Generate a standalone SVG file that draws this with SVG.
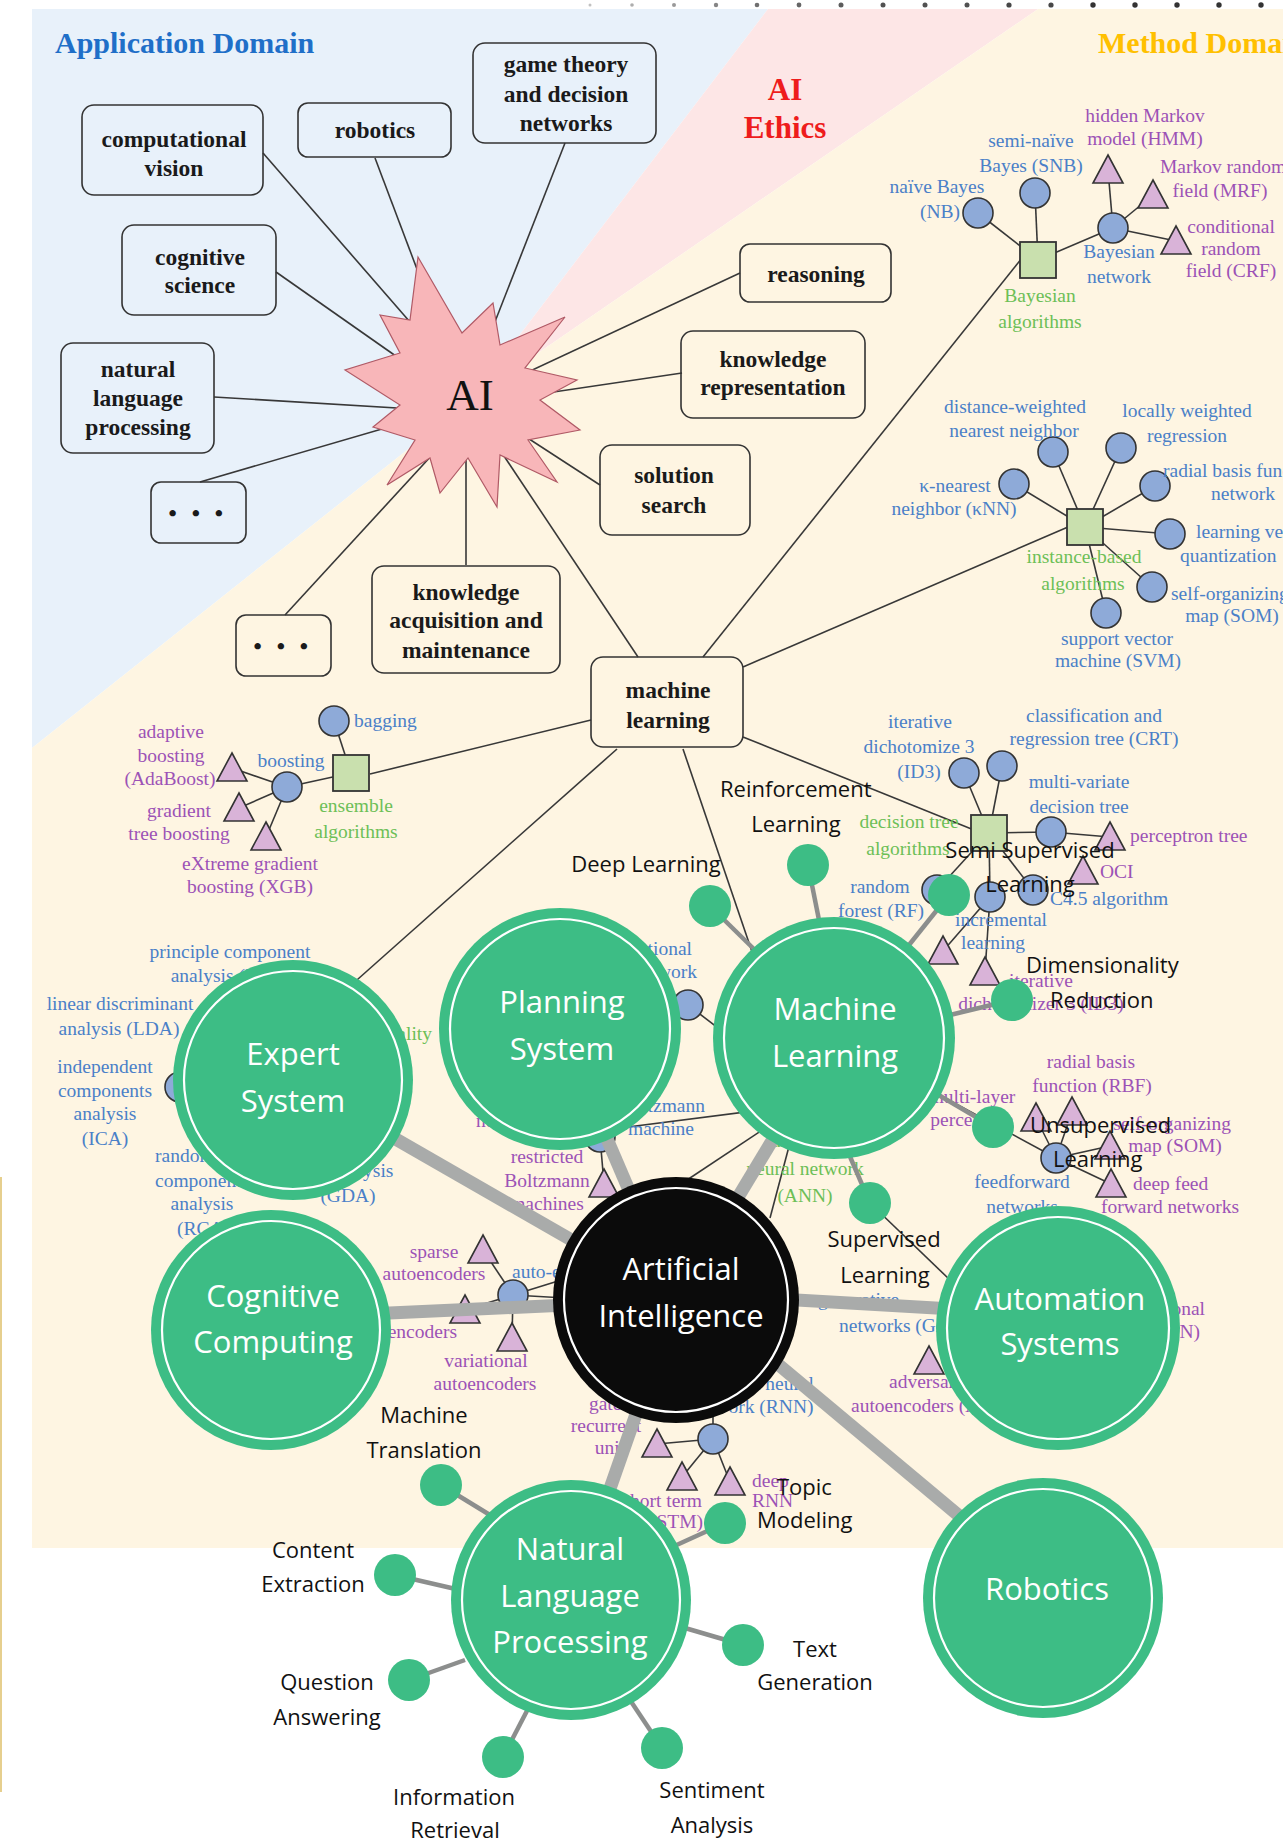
<svg xmlns="http://www.w3.org/2000/svg" width="1283" height="1846" viewBox="0 0 1283 1846">
<defs>
<style>
.box{fill:none;stroke:#333;stroke-width:1.6}
.bt{font-family:"Liberation Serif","Times New Roman",serif;font-weight:bold;font-size:23.5px;fill:#1a1a1a;text-anchor:middle}
.ln{stroke:#383838;stroke-width:1.6;fill:none}
.b,.p,.g{font-family:"Liberation Serif","Times New Roman",serif;font-size:19.5px}
.b{fill:#4a80c8}
.p{fill:#9c52b6}
.g{fill:#6dbf57}
.m{text-anchor:middle}
.e{text-anchor:end}
.bc{fill:#8eaad8;stroke:#333;stroke-width:1.6}
.tr{fill:#d9b3d8;stroke:#333;stroke-width:1.6}
.sq{fill:#c9e0ae;stroke:#333;stroke-width:1.8}
.thick{stroke:#a9abaa;stroke-width:13}
.gl{stroke:#8c8e8d;stroke-width:4.5}
.big{fill:#3dbd85}
.ring{fill:none;stroke:#fff;stroke-width:2.2}
.sm{fill:#3dbd85}
.gt{font-family:"Open Sans","Noto Sans",sans-serif;font-size:31px;fill:#fff;text-anchor:middle}
.lab{font-family:"Open Sans","Noto Sans",sans-serif;font-size:22px;fill:#111}
.dot{fill:#333}
</style>
<path id="tri" d="M0,-15 L15,13 L-15,13 Z"/>
<rect id="sqr" x="-18" y="-18" width="36" height="36"/>
</defs>

<!-- domain backgrounds -->
<g id="background">
<rect width="1283" height="1846" fill="#fff"/>
<polygon fill="#e8f1fa" points="32,9 768,9 470,400 32,748"/>
<polygon fill="#fde6e6" points="768,9 1038,9 470,400"/>
<polygon fill="#fef5e2" points="1038,9 1283,9 1283,1548 32,1548 32,748 470,400"/>
<line x1="1" y1="1177" x2="1" y2="1792" stroke="#e6cf8e" stroke-width="2"/>
<g class="dot">
<circle cx="590" cy="5" r="1.5" opacity="0.3"/><circle cx="632" cy="5" r="1.8" opacity="0.4"/><circle cx="674" cy="5" r="2" opacity="0.5"/><circle cx="716" cy="5" r="2.2" opacity="0.6"/><circle cx="757" cy="5" r="2.3" opacity="0.7"/><circle cx="799" cy="5" r="2.4" opacity="0.75"/><circle cx="841" cy="5" r="2.5" opacity="0.8"/><circle cx="883" cy="5" r="2.5" opacity="0.85"/><circle cx="925" cy="5" r="2.5" opacity="0.85"/><circle cx="967" cy="5" r="2.5" opacity="0.85"/><circle cx="1009" cy="5" r="2.6" opacity="0.9"/><circle cx="1051" cy="5" r="2.6" opacity="0.9"/><circle cx="1093" cy="5" r="2.7"/><circle cx="1135" cy="5" r="2.7"/><circle cx="1177" cy="5" r="2.7"/><circle cx="1219" cy="5" r="2.7"/><circle cx="1261" cy="5" r="2.7"/>
</g>
</g>

<!-- domain titles -->
<g id="titles" font-family="Liberation Serif, Times New Roman, serif" font-weight="bold">
<text x="55" y="53" font-size="30" fill="#1f6fc8">Application Domain</text>
<text x="1098" y="53" font-size="30" fill="#ffc000">Method Domain</text>
<text x="785" y="100" font-size="31" fill="#ee1c1c" text-anchor="middle">AI</text>
<text x="785" y="138" font-size="31" fill="#ee1c1c" text-anchor="middle">Ethics</text>
</g>

<!-- thin connectors of the concept map -->
<g id="connectors" class="ln">
<line x1="263" y1="153" x2="430" y2="345"/>
<line x1="375" y1="158" x2="440" y2="330"/>
<line x1="565" y1="143" x2="480" y2="360"/>
<line x1="276" y1="272" x2="430" y2="380"/>
<line x1="214" y1="397" x2="430" y2="410"/>
<line x1="200" y1="482" x2="430" y2="415"/>
<line x1="740" y1="273" x2="500" y2="385"/>
<line x1="682" y1="373" x2="500" y2="400"/>
<line x1="600" y1="485" x2="500" y2="420"/>
<line x1="466" y1="565" x2="466" y2="430"/>
<line x1="638" y1="657" x2="480" y2="420"/>
<line x1="285" y1="615" x2="455" y2="430"/>
<line x1="703" y1="657" x2="1022" y2="258"/>
<line x1="743" y1="667" x2="1068" y2="527"/>
<line x1="743" y1="737" x2="974" y2="830"/>
<line x1="591" y1="720" x2="370" y2="774"/>
<line x1="617" y1="749" x2="340" y2="995"/>
<line x1="683" y1="749" x2="765" y2="990"/>
<!-- Bayesian -->
<line x1="978" y1="213" x2="1038" y2="260"/>
<line x1="1035" y1="193" x2="1038" y2="260"/>
<line x1="1113" y1="228" x2="1038" y2="260"/>
<line x1="1113" y1="228" x2="1108" y2="170"/>
<line x1="1113" y1="228" x2="1153" y2="195"/>
<line x1="1113" y1="228" x2="1176" y2="241"/>
<!-- instance-based -->
<line x1="1085" y1="527" x2="1014" y2="484"/>
<line x1="1085" y1="527" x2="1053" y2="452"/>
<line x1="1085" y1="527" x2="1121" y2="448"/>
<line x1="1085" y1="527" x2="1155" y2="486"/>
<line x1="1085" y1="527" x2="1170" y2="534"/>
<line x1="1085" y1="527" x2="1152" y2="587"/>
<line x1="1085" y1="527" x2="1106" y2="613"/>
<!-- decision tree -->
<line x1="989" y1="833" x2="964" y2="773"/>
<line x1="989" y1="833" x2="1002" y2="766"/>
<line x1="989" y1="833" x2="1051" y2="832"/>
<line x1="1051" y1="832" x2="1110" y2="837"/>
<line x1="989" y1="833" x2="937" y2="890"/>
<line x1="989" y1="833" x2="990" y2="897"/>
<line x1="989" y1="833" x2="1033" y2="890"/>
<line x1="990" y1="897" x2="943" y2="951"/>
<line x1="990" y1="897" x2="985" y2="972"/>
<!-- ensemble -->
<line x1="351" y1="773" x2="334" y2="721"/>
<line x1="351" y1="773" x2="287" y2="787"/>
<line x1="287" y1="787" x2="232" y2="768"/>
<line x1="287" y1="787" x2="239" y2="808"/>
<line x1="287" y1="787" x2="266" y2="837"/>
<!-- neural networks -->
<line x1="688" y1="1005" x2="760" y2="1060"/>
<line x1="620" y1="1128" x2="800" y2="1105"/>
<line x1="687" y1="1180" x2="800" y2="1105"/>
<line x1="770" y1="1218" x2="800" y2="1105"/>
<line x1="600" y1="1137" x2="604" y2="1184"/>
<line x1="834" y1="1038" x2="1056" y2="1158"/>
<line x1="1056" y1="1158" x2="1036" y2="1118"/>
<line x1="1056" y1="1158" x2="1072" y2="1112"/>
<line x1="1056" y1="1158" x2="1110" y2="1146"/>
<line x1="1056" y1="1158" x2="1111" y2="1184"/>
<line x1="870" y1="1203" x2="950" y2="1280"/>
<!-- autoencoders -->
<line x1="513" y1="1295" x2="483" y2="1250"/>
<line x1="513" y1="1295" x2="512" y2="1338"/>
<line x1="513" y1="1295" x2="600" y2="1268"/>
<line x1="513" y1="1295" x2="600" y2="1300"/>
<line x1="513" y1="1295" x2="465" y2="1310"/>
<!-- recurrent -->
<line x1="713" y1="1439" x2="657" y2="1444"/>
<line x1="713" y1="1439" x2="682" y2="1477"/>
<line x1="713" y1="1439" x2="730" y2="1482"/>
<line x1="713" y1="1439" x2="713" y2="1400"/>
</g>

<!-- application and method concept boxes -->
<g id="box-computational-vision"><rect class="box" x="82" y="105" width="181" height="90" rx="12"/><text class="bt" x="174" y="147">computational</text><text class="bt" x="174" y="176">vision</text></g>
<g id="box-robotics"><rect class="box" x="298" y="103" width="153" height="54" rx="10"/><text class="bt" x="375" y="138">robotics</text></g>
<g id="box-game-theory"><rect class="box" x="473" y="43" width="183" height="100" rx="12"/><text class="bt" x="566" y="72">game theory</text><text class="bt" x="566" y="102">and decision</text><text class="bt" x="566" y="131">networks</text></g>
<g id="box-cognitive-science"><rect class="box" x="122" y="225" width="154" height="90" rx="12"/><text class="bt" x="200" y="265">cognitive</text><text class="bt" x="200" y="293">science</text></g>
<g id="box-nlp"><rect class="box" x="61" y="343" width="153" height="110" rx="12"/><text class="bt" x="138" y="377">natural</text><text class="bt" x="138" y="406">language</text><text class="bt" x="138" y="435">processing</text></g>
<g id="box-more-1"><rect class="box" x="151" y="482" width="95" height="61" rx="10"/><text class="bt" x="198" y="521" font-size="16" letter-spacing="4.5">• • •</text></g>
<g id="box-reasoning"><rect class="box" x="740" y="244" width="151" height="58" rx="10"/><text class="bt" x="816" y="282">reasoning</text></g>
<g id="box-knowledge-representation"><rect class="box" x="681" y="331" width="184" height="87" rx="12"/><text class="bt" x="773" y="367">knowledge</text><text class="bt" x="773" y="395">representation</text></g>
<g id="box-solution-search"><rect class="box" x="600" y="445" width="150" height="90" rx="12"/><text class="bt" x="674" y="483">solution</text><text class="bt" x="674" y="513">search</text></g>
<g id="box-knowledge-acquisition"><rect class="box" x="372" y="566" width="188" height="107" rx="12"/><text class="bt" x="466" y="600">knowledge</text><text class="bt" x="466" y="628">acquisition and</text><text class="bt" x="466" y="658">maintenance</text></g>
<g id="box-more-2"><rect class="box" x="236" y="615" width="95" height="61" rx="10"/><text class="bt" x="283" y="654" font-size="16" letter-spacing="4.5">• • •</text></g>
<g id="box-machine-learning"><rect class="box" x="591" y="657" width="152" height="90" rx="12"/><text class="bt" x="668" y="698">machine</text><text class="bt" x="668" y="728">learning</text></g>

<!-- AI burst -->
<g id="ai-star">
<polygon fill="#f8b6b9" stroke="#b05a66" stroke-width="1.2" points="418,257 462,333 493,303 500,345 565,317 525,368 577,380 540,400 580,430 528,440 557,482 500,455 497,507 468,458 440,493 430,458 387,485 415,440 373,427 400,405 345,370 400,353 380,315 410,320"/>
<text x="470" y="410" font-family="Liberation Serif, Times New Roman, serif" font-size="45" fill="#111" text-anchor="middle">AI</text>
</g>

<!-- method clusters: shapes -->
<g id="cluster-shapes">
<use href="#sqr" class="sq" x="1038" y="260"/>
<use href="#sqr" class="sq" x="1085" y="527"/>
<use href="#sqr" class="sq" x="989" y="833"/>
<use href="#sqr" class="sq" x="351" y="773"/>
<circle class="bc" cx="978" cy="213" r="15"/><circle class="bc" cx="1035" cy="193" r="15"/><circle class="bc" cx="1113" cy="228" r="15"/>
<circle class="bc" cx="1014" cy="484" r="15"/><circle class="bc" cx="1053" cy="452" r="15"/><circle class="bc" cx="1121" cy="448" r="15"/><circle class="bc" cx="1155" cy="486" r="15"/><circle class="bc" cx="1170" cy="534" r="15"/><circle class="bc" cx="1152" cy="587" r="15"/><circle class="bc" cx="1106" cy="613" r="15"/>
<circle class="bc" cx="964" cy="773" r="15"/><circle class="bc" cx="1002" cy="766" r="15"/><circle class="bc" cx="1051" cy="832" r="15"/><circle class="bc" cx="937" cy="890" r="15"/><circle class="bc" cx="990" cy="897" r="15"/><circle class="bc" cx="1033" cy="890" r="15"/>
<circle class="bc" cx="334" cy="721" r="15"/><circle class="bc" cx="287" cy="787" r="15"/>
<circle class="bc" cx="180" cy="1087" r="15"/>
<circle class="bc" cx="688" cy="1005" r="15"/><circle class="bc" cx="600" cy="1137" r="15"/>
<circle class="bc" cx="513" cy="1295" r="15"/><circle class="bc" cx="713" cy="1439" r="15"/><circle class="bc" cx="1056" cy="1158" r="15"/>
<use href="#tri" class="tr" x="1108" y="170"/><use href="#tri" class="tr" x="1153" y="195"/><use href="#tri" class="tr" x="1176" y="241"/>
<use href="#tri" class="tr" x="1110" y="837"/><use href="#tri" class="tr" x="1083" y="871"/>
<use href="#tri" class="tr" x="943" y="951"/><use href="#tri" class="tr" x="985" y="972"/>
<use href="#tri" class="tr" x="232" y="768"/><use href="#tri" class="tr" x="239" y="808"/><use href="#tri" class="tr" x="266" y="837"/>
<use href="#tri" class="tr" x="604" y="1184"/><use href="#tri" class="tr" x="483" y="1250"/><use href="#tri" class="tr" x="465" y="1310"/><use href="#tri" class="tr" x="512" y="1338"/>
<use href="#tri" class="tr" x="657" y="1444"/><use href="#tri" class="tr" x="682" y="1477"/><use href="#tri" class="tr" x="730" y="1482"/>
<use href="#tri" class="tr" x="1036" y="1118"/><use href="#tri" class="tr" x="1072" y="1112"/><use href="#tri" class="tr" x="1110" y="1146"/><use href="#tri" class="tr" x="1111" y="1184"/>
<use href="#tri" class="tr" x="929" y="1361"/>
</g>

<!-- method clusters: labels -->
<g id="cluster-labels">
<text class="b m" x="937" y="193">naïve Bayes</text><text class="b e" x="960" y="218">(NB)</text>
<text class="b m" x="1031" y="147">semi-naïve</text><text class="b m" x="1031" y="172">Bayes (SNB)</text>
<text class="b m" x="1119" y="258">Bayesian</text><text class="b m" x="1119" y="283">network</text>
<text class="p m" x="1145" y="122">hidden Markov</text><text class="p m" x="1145" y="145">model (HMM)</text>
<text class="p" x="1160" y="173">Markov random</text><text class="p m" x="1220" y="197">field (MRF)</text>
<text class="p m" x="1231" y="233">conditional</text><text class="p m" x="1231" y="255">random</text><text class="p m" x="1231" y="277">field (CRF)</text>
<text class="g m" x="1040" y="302">Bayesian</text><text class="g m" x="1040" y="328">algorithms</text>

<text class="b m" x="1015" y="413">distance-weighted</text><text class="b m" x="1014" y="437">nearest neighbor</text>
<text class="b m" x="1187" y="417">locally weighted</text><text class="b m" x="1187" y="442">regression</text>
<text class="b m" x="955" y="492">κ-nearest</text><text class="b m" x="954" y="515">neighbor (κNN)</text>
<text class="b" x="1163" y="477">radial basis function</text><text class="b m" x="1243" y="500">network</text>
<text class="b" x="1196" y="538">learning vector</text><text class="b" x="1180" y="562">quantization</text>
<text class="b" x="1171" y="600">self-organizing</text><text class="b m" x="1232" y="622">map (SOM)</text>
<text class="b m" x="1117" y="645">support vector</text><text class="b m" x="1118" y="667">machine (SVM)</text>
<text class="g m" x="1084" y="563">instance-based</text><text class="g m" x="1083" y="590">algorithms</text>

<text class="b m" x="920" y="728">iterative</text><text class="b m" x="919" y="753">dichotomize 3</text><text class="b m" x="919" y="778">(ID3)</text>
<text class="b m" x="1094" y="722">classification and</text><text class="b m" x="1094" y="745">regression tree (CRT)</text>
<text class="b m" x="1079" y="788">multi-variate</text><text class="b m" x="1079" y="813">decision tree</text>
<text class="p" x="1130" y="842">perceptron tree</text>
<text class="p" x="1100" y="878">OCI</text>
<text class="b" x="1050" y="905">C4.5 algorithm</text>
<text class="b m" x="880" y="893">random</text><text class="b m" x="881" y="917">forest (RF)</text>
<text class="b m" x="1001" y="926">incremental</text><text class="b m" x="993" y="949">learning</text>
<text class="g m" x="909" y="828">decision tree</text><text class="g m" x="908" y="855">algorithms</text>
<text class="p m" x="1041" y="987">iterative</text><text class="p m" x="1041" y="1010">dichotomizer 3 (ID3)</text>

<text class="b" x="354" y="727">bagging</text>
<text class="b m" x="291" y="767">boosting</text>
<text class="p m" x="171" y="738">adaptive</text><text class="p m" x="171" y="762">boosting</text><text class="p m" x="170" y="785">(AdaBoost)</text>
<text class="p m" x="179" y="817">gradient</text><text class="p m" x="179" y="840">tree boosting</text>
<text class="p m" x="250" y="870">eXtreme gradient</text><text class="p m" x="250" y="893">boosting (XGB)</text>
<text class="g m" x="356" y="812">ensemble</text><text class="g m" x="356" y="838">algorithms</text>

<text class="b m" x="230" y="958">principle component</text><text class="b m" x="230" y="982">analysis (PCA)</text>
<text class="b m" x="120" y="1010">linear discriminant</text><text class="b m" x="119" y="1035">analysis (LDA)</text>
<text class="b m" x="105" y="1073">independent</text><text class="b m" x="105" y="1097">components</text><text class="b m" x="105" y="1120">analysis</text><text class="b m" x="105" y="1145">(ICA)</text>
<text class="b" x="155" y="1162">random</text><text class="b" x="155" y="1187">component</text><text class="b m" x="202" y="1210">analysis</text><text class="b" x="177" y="1235">(RCA)</text>
<text class="b m" x="362" y="1177">analysis</text><text class="b m" x="348" y="1202">(GDA)</text>
<text class="g e" x="432" y="1040">dimensionality</text><text class="g m" x="370" y="1065">reduction</text>

<text class="b e" x="692" y="955">convolutional</text><text class="b e" x="697" y="978">neural network</text>
<text class="b e" x="705" y="1112">Boltzmann</text><text class="b m" x="661" y="1135">machine</text>
<text class="p" x="476" y="1127">networks</text>
<text class="p m" x="547" y="1163">restricted</text><text class="p m" x="547" y="1187">Boltzmann</text><text class="p m" x="547" y="1210">machines</text>
<text class="g m" x="805" y="1147">artificial</text><text class="g m" x="805" y="1175">neural network</text><text class="g m" x="805" y="1202">(ANN)</text>
<text class="p m" x="972" y="1103">multi-layer</text><text class="p m" x="972" y="1126">perceptron</text>
<text class="p m" x="1091" y="1068">radial basis</text><text class="p m" x="1092" y="1092">function (RBF)</text>
<text class="p e" x="1231" y="1130">self-organizing</text><text class="p m" x="1175" y="1152">map (SOM)</text>
<text class="p" x="1133" y="1190">deep feed</text><text class="p m" x="1170" y="1213">forward networks</text>
<text class="b m" x="1022" y="1188">feedforward</text><text class="b m" x="1022" y="1213">networks</text>

<text class="p m" x="434" y="1258">sparse</text><text class="p m" x="434" y="1280">autoencoders</text>
<text class="b" x="512" y="1278">auto-encoders</text>
<text class="p e" x="457" y="1338">autoencoders</text>
<text class="p m" x="486" y="1367">variational</text><text class="p m" x="485" y="1390">autoencoders</text>
<text class="b" x="818" y="1306">generative</text><text class="b" x="839" y="1332">networks (GAN)</text>
<text class="p" x="889" y="1388">adversarial</text><text class="p" x="851" y="1412">autoencoders (AAE)</text>
<text class="p e" x="1205" y="1315">convolutional</text><text class="p e" x="1200" y="1338">network (CNN)</text>

<text class="p m" x="610" y="1410">gated</text><text class="p m" x="606" y="1432">recurrent</text><text class="p m" x="610" y="1454">unit</text>
<text class="b m" x="752" y="1390">recurrent neural</text><text class="b m" x="752" y="1413">network (RNN)</text>
<text class="p e" x="702" y="1507">long short term</text><text class="p e" x="703" y="1528">memory (LSTM)</text>
<text class="p" x="752" y="1487">deep</text><text class="p" x="752" y="1507">RNN</text>
</g>

<!-- heavy links from the central node -->
<g id="hub-links" class="thick">
<line x1="676" y1="1300" x2="293" y2="1080"/>
<line x1="676" y1="1300" x2="280" y2="1318"/>
<line x1="676" y1="1300" x2="560" y2="1029"/>
<line x1="676" y1="1300" x2="834" y2="1038"/>
<line x1="676" y1="1293" x2="1058" y2="1315"/>
<line x1="700" y1="1299" x2="1043" y2="1586"/>
<line x1="676" y1="1300" x2="571" y2="1600"/>
</g>

<!-- links to leaf topics -->
<g id="leaf-links" class="gl">
<line x1="710" y1="906" x2="760" y2="955"/>
<line x1="808" y1="865" x2="820" y2="925"/>
<line x1="949" y1="895" x2="905" y2="950"/>
<line x1="1012" y1="1000" x2="950" y2="1015"/>
<line x1="993" y1="1127" x2="930" y2="1090"/>
<line x1="870" y1="1203" x2="845" y2="1145"/>
<line x1="441" y1="1485" x2="490" y2="1515"/>
<line x1="395" y1="1575" x2="460" y2="1590"/>
<line x1="409" y1="1680" x2="465" y2="1660"/>
<line x1="503" y1="1757" x2="530" y2="1705"/>
<line x1="662" y1="1748" x2="630" y2="1700"/>
<line x1="743" y1="1645" x2="685" y2="1628"/>
<line x1="725" y1="1523" x2="670" y2="1548"/>
</g>

<!-- main topic nodes -->
<g id="node-expert-system"><circle class="big" cx="293" cy="1080" r="120"/><circle class="ring" cx="293" cy="1080" r="109"/><text class="gt" x="293" y="1065">Expert</text><text class="gt" x="293" y="1112">System</text></g>
<g id="node-cognitive-computing"><circle class="big" cx="271" cy="1330" r="120"/><circle class="ring" cx="271" cy="1330" r="109"/><text class="gt" x="273" y="1307">Cognitive</text><text class="gt" x="273" y="1353">Computing</text></g>
<g id="node-planning-system"><circle class="big" cx="560" cy="1029" r="121"/><circle class="ring" cx="560" cy="1029" r="110"/><text class="gt" x="562" y="1013">Planning</text><text class="gt" x="562" y="1060">System</text></g>
<g id="node-machine-learning"><circle class="big" cx="834" cy="1038" r="121"/><circle class="ring" cx="834" cy="1038" r="110"/><text class="gt" x="835" y="1020">Machine</text><text class="gt" x="835" y="1067">Learning</text></g>
<g id="node-automation-systems"><circle class="big" cx="1058" cy="1328" r="122"/><circle class="ring" cx="1058" cy="1328" r="111"/><text class="gt" x="1060" y="1310">Automation</text><text class="gt" x="1060" y="1355">Systems</text></g>
<g id="node-robotics"><circle class="big" cx="1043" cy="1598" r="120"/><circle class="ring" cx="1043" cy="1598" r="109"/><text class="gt" x="1047" y="1600">Robotics</text></g>
<g id="node-nlp"><circle class="big" cx="571" cy="1600" r="120"/><circle class="ring" cx="571" cy="1600" r="109"/><text class="gt" x="570" y="1560">Natural</text><text class="gt" x="570" y="1607">Language</text><text class="gt" x="570" y="1653">Processing</text></g>
<g id="node-artificial-intelligence"><circle cx="676" cy="1300" r="123" fill="#0b0b0b"/><circle class="ring" cx="676" cy="1300" r="112"/><text class="gt" x="681" y="1280">Artificial</text><text class="gt" x="681" y="1327">Intelligence</text></g>

<!-- leaf topic nodes -->
<g id="leaf-deep-learning"><circle class="sm" cx="710" cy="906" r="21"/><text class="lab" x="646" y="872" text-anchor="middle">Deep Learning</text></g>
<g id="leaf-reinforcement"><circle class="sm" cx="808" cy="865" r="21"/><text class="lab" x="720" y="797">Reinforcement</text><text class="lab" x="796" y="832" text-anchor="middle">Learning</text></g>
<g id="leaf-semi-supervised"><circle class="sm" cx="949" cy="895" r="21"/><text class="lab" x="1030" y="858" text-anchor="middle">Semi Supervised</text><text class="lab" x="1030" y="892" text-anchor="middle">Learning</text></g>
<g id="leaf-dimensionality"><circle class="sm" cx="1012" cy="1000" r="21"/><text class="lab" x="1026" y="973">Dimensionality</text><text class="lab" x="1050" y="1008">Reduction</text></g>
<g id="leaf-unsupervised"><circle class="sm" cx="993" cy="1127" r="21"/><text class="lab" x="1030" y="1133">Unsupervised</text><text class="lab" x="1053" y="1167">Learning</text></g>
<g id="leaf-supervised"><circle class="sm" cx="870" cy="1203" r="21"/><text class="lab" x="884" y="1247" text-anchor="middle">Supervised</text><text class="lab" x="885" y="1283" text-anchor="middle">Learning</text></g>
<g id="leaf-machine-translation"><circle class="sm" cx="441" cy="1485" r="21"/><text class="lab" x="424" y="1423" text-anchor="middle">Machine</text><text class="lab" x="424" y="1458" text-anchor="middle">Translation</text></g>
<g id="leaf-content-extraction"><circle class="sm" cx="395" cy="1575" r="21"/><text class="lab" x="313" y="1558" text-anchor="middle">Content</text><text class="lab" x="313" y="1592" text-anchor="middle">Extraction</text></g>
<g id="leaf-question-answering"><circle class="sm" cx="409" cy="1680" r="21"/><text class="lab" x="327" y="1690" text-anchor="middle">Question</text><text class="lab" x="327" y="1725" text-anchor="middle">Answering</text></g>
<g id="leaf-information-retrieval"><circle class="sm" cx="503" cy="1757" r="21"/><text class="lab" x="454" y="1805" text-anchor="middle">Information</text><text class="lab" x="455" y="1838" text-anchor="middle">Retrieval</text></g>
<g id="leaf-sentiment-analysis"><circle class="sm" cx="662" cy="1748" r="21"/><text class="lab" x="712" y="1798" text-anchor="middle">Sentiment</text><text class="lab" x="712" y="1833" text-anchor="middle">Analysis</text></g>
<g id="leaf-text-generation"><circle class="sm" cx="743" cy="1645" r="21"/><text class="lab" x="815" y="1657" text-anchor="middle">Text</text><text class="lab" x="815" y="1690" text-anchor="middle">Generation</text></g>
<g id="leaf-topic-modeling"><circle class="sm" cx="725" cy="1523" r="21"/><text class="lab" x="777" y="1495">Topic</text><text class="lab" x="757" y="1528">Modeling</text></g>
</svg>
